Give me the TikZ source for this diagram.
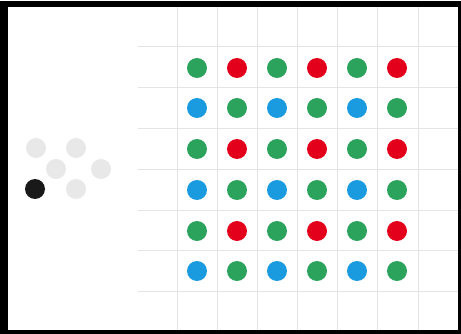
\documentclass[tikz,border=0pt]{standalone}
\definecolor{dgreen}{HTML}{2BA35C}
\definecolor{dred}{HTML}{E3001B}
\definecolor{dblue}{HTML}{1A9BE0}
\definecolor{lgray}{HTML}{E8E8E8}
\definecolor{gridc}{HTML}{E4E4E4}
\begin{document}
\begin{tikzpicture}[x=1pt,y=-1pt,
  dot/.style={circle,inner sep=0pt,minimum size=20pt,fill=#1,draw=none},
  gridline/.style={draw=gridc,line width=1pt}]
\useasboundingbox (0,0) rectangle (461,334);
\fill[black] (0,1) rectangle (461,334);
\fill[white] (8,7) rectangle (458,330);
% grid
\foreach \x in {177,217,257,297,337,377,418}
  \draw[gridline] (\x,7) -- (\x,330);
\foreach \y in {47,88,129,170,211,251,291}
  \draw[gridline] (138,\y) -- (458,\y);
% dots
\foreach \r/\y in {1/68,2/108,3/149,4/190,5/231,6/271}{
  \foreach \c/\x in {1/197,2/237,3/277,4/317,5/357,6/397}{
    \pgfmathtruncatemacro{\rp}{mod(\r,2)}
    \pgfmathtruncatemacro{\cp}{mod(\c,2)}
    \ifnum\rp=1
      \ifnum\cp=1 \def\col{dgreen}\else\def\col{dred}\fi
    \else
      \ifnum\cp=1 \def\col{dblue}\else\def\col{dgreen}\fi
    \fi
    \node[dot=\col] (d\r\c) at (\x,\y) {};
  }
}
% left cluster
\node[dot=lgray] (g1) at (36,148) {};
\node[dot=lgray] (g2) at (76,148) {};
\node[dot=lgray] (g3) at (56,169) {};
\node[dot=lgray] (g4) at (101,169) {};
\node[dot=black!90] (k1) at (35,189) {};
\node[dot=lgray] (g5) at (76,189) {};
\end{tikzpicture}
\end{document}
